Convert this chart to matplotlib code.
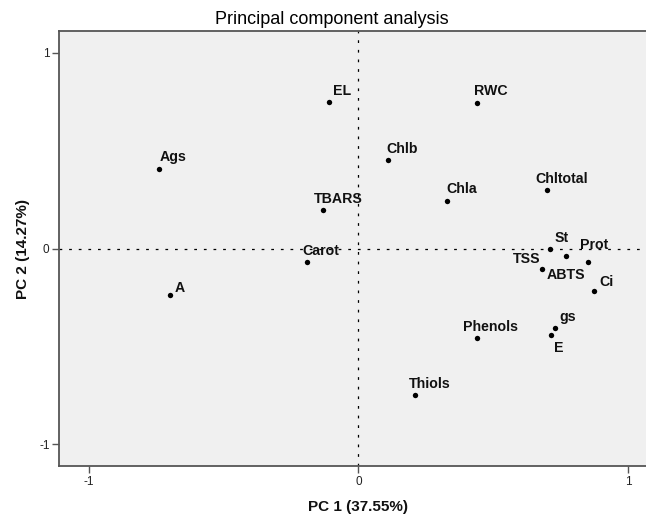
import matplotlib
matplotlib.use("Agg")
import matplotlib.pyplot as plt

plt.rcParams['font.family'] = ['Liberation Sans', 'DejaVu Sans']

# Variable names and loadings on PC1 / PC2
variables = ["EL", "RWC", "Ags", "Chlb", "Chla", "Chltotal", "TBARS", "Carot",
             "St", "ABTS", "Prot", "TSS", "Ci", "A", "gs", "E", "Phenols", "Thiols"]
pc1 = [-0.11, 0.44, -0.74, 0.11, 0.33, 0.70, -0.13, -0.19,
       0.71, 0.77, 0.85, 0.68, 0.875, -0.70, 0.73, 0.715, 0.44, 0.21]
pc2 = [0.75, 0.745, 0.405, 0.45, 0.245, 0.30, 0.195, -0.07,
       0.0, -0.04, -0.07, -0.105, -0.215, -0.24, -0.405, -0.44, -0.455, -0.75]

# label offsets from each point (pixels: dx to text start, dy to baseline; +dy = down)
label_dx = [4.3, -3, 0.7, -2, -1.3, -12, -10, -4.7,
            4.3, -19.3, -7.7, -29.3, 5, 5, 4.3, 3, -13.7, -6.3]
label_dy = [-6.7, -7.7, -8, -7.7, -7.3, -6.7, -7.7, -7.7,
            -6, 23, -13.3, -6.3, -5, -3.7, -7, 17.3, -6.7, -7.3]

title = "Principal component analysis"
xlabel = "PC 1 (37.55%)"
ylabel = "PC 2 (14.27%)"
ticks = [-1, 0, 1]

W, H = 646, 514
fig = plt.figure(figsize=(W / 100, H / 100), dpi=100)
ax = fig.add_axes([59.3 / W, (H - 466) / H, 1 - 59.3 / W, (466 - 31) / H])
ax.set_facecolor("#f0f0f0")
ax.set_xlim(-1.109, 1.066)
ax.set_ylim(-1.111, 1.111)

edge = "#555555"
for s in ["left", "bottom", "top"]:
    ax.spines[s].set_color(edge)
    ax.spines[s].set_linewidth(1.3)
ax.spines["right"].set_visible(False)

ax.axhline(0, color="black", lw=0.9, linestyle=(0, (2.2, 5.5)), zorder=1)
ax.axvline(0, color="black", lw=0.9, linestyle=(0, (2.2, 5.5)), zorder=1)

ax.scatter(pc1, pc2, s=15, color="black", zorder=3, linewidths=0)

px = 0.72
for name, x, y, dx, dy in zip(variables, pc1, pc2, label_dx, label_dy):
    ax.annotate(name, (x, y), xytext=(dx * px, -dy * px), textcoords="offset points",
                ha="left", va="baseline", fontsize=10.2, fontweight="bold",
                color="#111111", zorder=4)

ax.set_xticks(ticks)
ax.set_yticks(ticks)
ax.set_xticklabels([str(t) for t in ticks])
ax.set_yticklabels([str(t) for t in ticks])
ax.tick_params(direction="out", length=5, width=1.0, color=edge,
               labelsize=8.5, pad=2, labelcolor="#222222")

fig.text(332 / W, (H - 20) / H, title, ha="center", va="center",
         fontsize=13, color="#000000")
fig.text(358.5 / W, (H - 506.5) / H, xlabel, ha="center", va="center",
         fontsize=11, fontweight="bold", color="#111111")
fig.text(23.3 / W, (H - 249) / H, ylabel, ha="center", va="center",
         rotation=90, fontsize=11, fontweight="bold", color="#111111")

fig.savefig("out.png", dpi=100)
